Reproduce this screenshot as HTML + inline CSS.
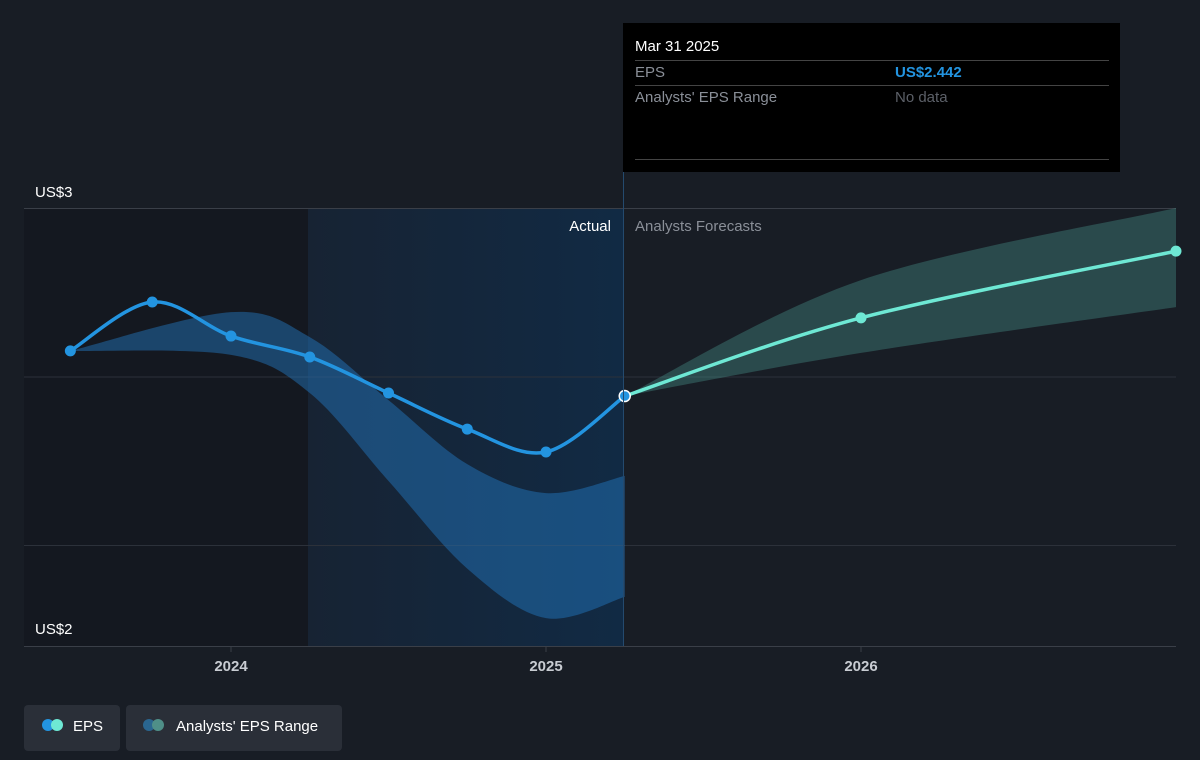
<!DOCTYPE html>
<html><head><meta charset="utf-8"><style>
body{margin:0;background:#181d25;font-family:"Liberation Sans",sans-serif;}
svg{display:block}
</style></head><body>
<svg id="chart" width="1200" height="760">
<defs>
<linearGradient id="hl" x1="0" x2="1" y1="0" y2="0"><stop offset="0" stop-color="#172333"/><stop offset="1" stop-color="#112a44"/></linearGradient>
</defs>
<rect width="1200" height="760" fill="#181d25"/>
<rect x="24" y="208" width="284" height="438" fill="#141820"/>
<rect x="308" y="208" width="315" height="438" fill="url(#hl)"/>
<g id="grid"></g>
<g id="marks"></g>
<line x1="623.5" y1="172" x2="623.5" y2="646" stroke="#244a6e" stroke-width="1"/>
<text x="611" y="231" fill="#fff" font-size="15" text-anchor="end">Actual</text>
<text x="635" y="231" fill="#8a8f98" font-size="15">Analysts Forecasts</text>
<g>
<rect x="623" y="23" width="497" height="149" fill="#000"/>
<text x="635" y="51" fill="#fff" font-size="15">Mar 31 2025</text>
<line x1="635" y1="60.5" x2="1109" y2="60.5" stroke="#444"/>
<text x="635" y="77" fill="#8a8f98" font-size="15">EPS</text>
<text x="895" y="77" fill="#2394e0" font-size="15" font-weight="bold">US$2.442</text>
<line x1="635" y1="85.5" x2="1109" y2="85.5" stroke="#444"/>
<text x="635" y="102" fill="#8a8f98" font-size="15">Analysts' EPS Range</text>
<text x="895" y="102" fill="#5c6068" font-size="15">No data</text>
<line x1="635" y1="159.5" x2="1109" y2="159.5" stroke="#444"/>
</g>
<g>
<g>
<rect x="24" y="705" width="96" height="46" rx="4" fill="#2a2f38"/>
<circle cx="48" cy="725" r="6" fill="#2394e0"/><circle cx="57" cy="725" r="6" fill="#6ee8d4"/>
<text x="73" y="731" fill="#fff" font-size="15">EPS</text>
</g>
<g>
<rect x="126" y="705" width="216" height="46" rx="4" fill="#2a2f38"/>
<circle cx="149" cy="725" r="6" fill="#2a6690"/><circle cx="158" cy="725" r="6" fill="#4f8f88"/>
<text x="176" y="731" fill="#fff" font-size="15">Analysts' EPS Range</text>
</g>
</g>
</svg>
<script>
const actualDates=[2023.49,2023.75,2024.0,2024.25,2024.5,2024.75,2025.0,2025.25];
const actualEps=[2.576,2.721,2.620,2.558,2.451,2.344,2.276,2.442];
const forecastDates=[2025.25,2026.0,2027.0];
const forecastEps=[2.442,2.674,2.872];
const rangeDates=[2023.49,2024.0,2024.25,2024.5,2024.75,2025.0,2025.25];
const rangeHigh=[2.576,2.691,2.617,2.43,2.24,2.154,2.205];
const rangeLow=[2.576,2.564,2.451,2.19,1.93,1.783,1.846];
const fRangeDates=[2025.25,2026.0,2027.0];
const fRangeHigh=[2.442,2.786,3.0];
const fRangeLow=[2.442,2.57,2.706];
const yTicks=[3,2.5,2];
const yTickLabels=["US$3","",""];
const xTicks=[2024,2025,2026];

const X=d=>231+(d-2024)*315;
const Y=v=>208+(3-v)*337;
const NS="http://www.w3.org/2000/svg";
function mk(tag,attrs,parent){const e=document.createElementNS(NS,tag);for(const k in attrs)e.setAttribute(k,attrs[k]);parent.appendChild(e);return e;}
function curve(pts,move){let d=(move?"M":"L")+pts[0][0]+","+pts[0][1];
 for(let i=0;i<pts.length-1;i++){const p0=pts[i-1]||pts[i],p1=pts[i],p2=pts[i+1],p3=pts[i+2]||p2;
  const c1=[p1[0]+(p2[0]-p0[0])/6,p1[1]+(p2[1]-p0[1])/6],c2=[p2[0]-(p3[0]-p1[0])/6,p2[1]-(p3[1]-p1[1])/6];
  d+=" C"+c1+" "+c2+" "+p2;}return d;}
const grid=document.getElementById('grid'),marks=document.getElementById('marks');
let l=mk('line',{x1:24,x2:1176,y1:Y(3)+0.5,y2:Y(3)+0.5,stroke:'#3a3f48'},grid);


yTicks.slice(1).forEach(v=>{const g=mk('line',{x1:24,x2:1176,y1:Y(v)+0.5,y2:Y(v)+0.5,stroke:'#2c313a'},grid);
 
 });
l=mk('line',{x1:24,x2:1176,y1:646.5,y2:646.5,stroke:'#3a3f48'},grid);


let t=mk('text',{x:35,y:197,fill:'#fff','font-size':15},grid);t.textContent=yTickLabels[0];


t=mk('text',{x:35,y:634,fill:'#fff','font-size':15},grid);t.textContent="US$2";


xTicks.forEach(d=>{const k=mk('line',{x1:X(d),x2:X(d),y1:646,y2:652,stroke:'#3a3f48'},grid);
 
 
 const tx=mk('text',{x:X(d),y:671,fill:'#c8ccd2','font-size':15,'text-anchor':'middle','font-weight':'bold'},grid);tx.textContent=d;
 
 });
function band(dates,hi,lo,fill,name){const up=dates.map((d,i)=>[X(d),Y(hi[i])]),dn=dates.map((d,i)=>[X(d),Y(lo[i])]).reverse();
 const p=mk('path',{d:curve(up,true)+" "+curve(dn,false)+"Z",fill:fill},marks);
 
 }
band(rangeDates,rangeHigh,rangeLow,'rgba(35,125,200,0.45)','eps-range-band');
band(fRangeDates,fRangeHigh,fRangeLow,'rgba(80,170,158,0.32)','forecast-range-band');
function line(dates,vals,col,name){const pts=dates.map((d,i)=>[X(d),Y(vals[i])]);
 const p=mk('path',{d:curve(pts,true),fill:'none',stroke:col,'stroke-width':3.5},marks);
 
 return pts;}
const ap=line(actualDates,actualEps,'#2394e0','eps-line');
const fp=line(forecastDates,forecastEps,'#6ee8d4','forecast-line');
ap.slice(0,-1).forEach(p=>{const c=mk('circle',{cx:p[0],cy:p[1],r:5.5,fill:'#2394e0'},marks);
 
 });
fp.slice(1).forEach(p=>{const c=mk('circle',{cx:p[0],cy:p[1],r:5.5,fill:'#6ee8d4'},marks);
 
 });
const last=ap[ap.length-1];
const hc=mk('circle',{cx:last[0],cy:last[1],r:5.5,fill:'#2394e0',stroke:'#fff','stroke-width':1.5},marks);


</script>
</body></html>
